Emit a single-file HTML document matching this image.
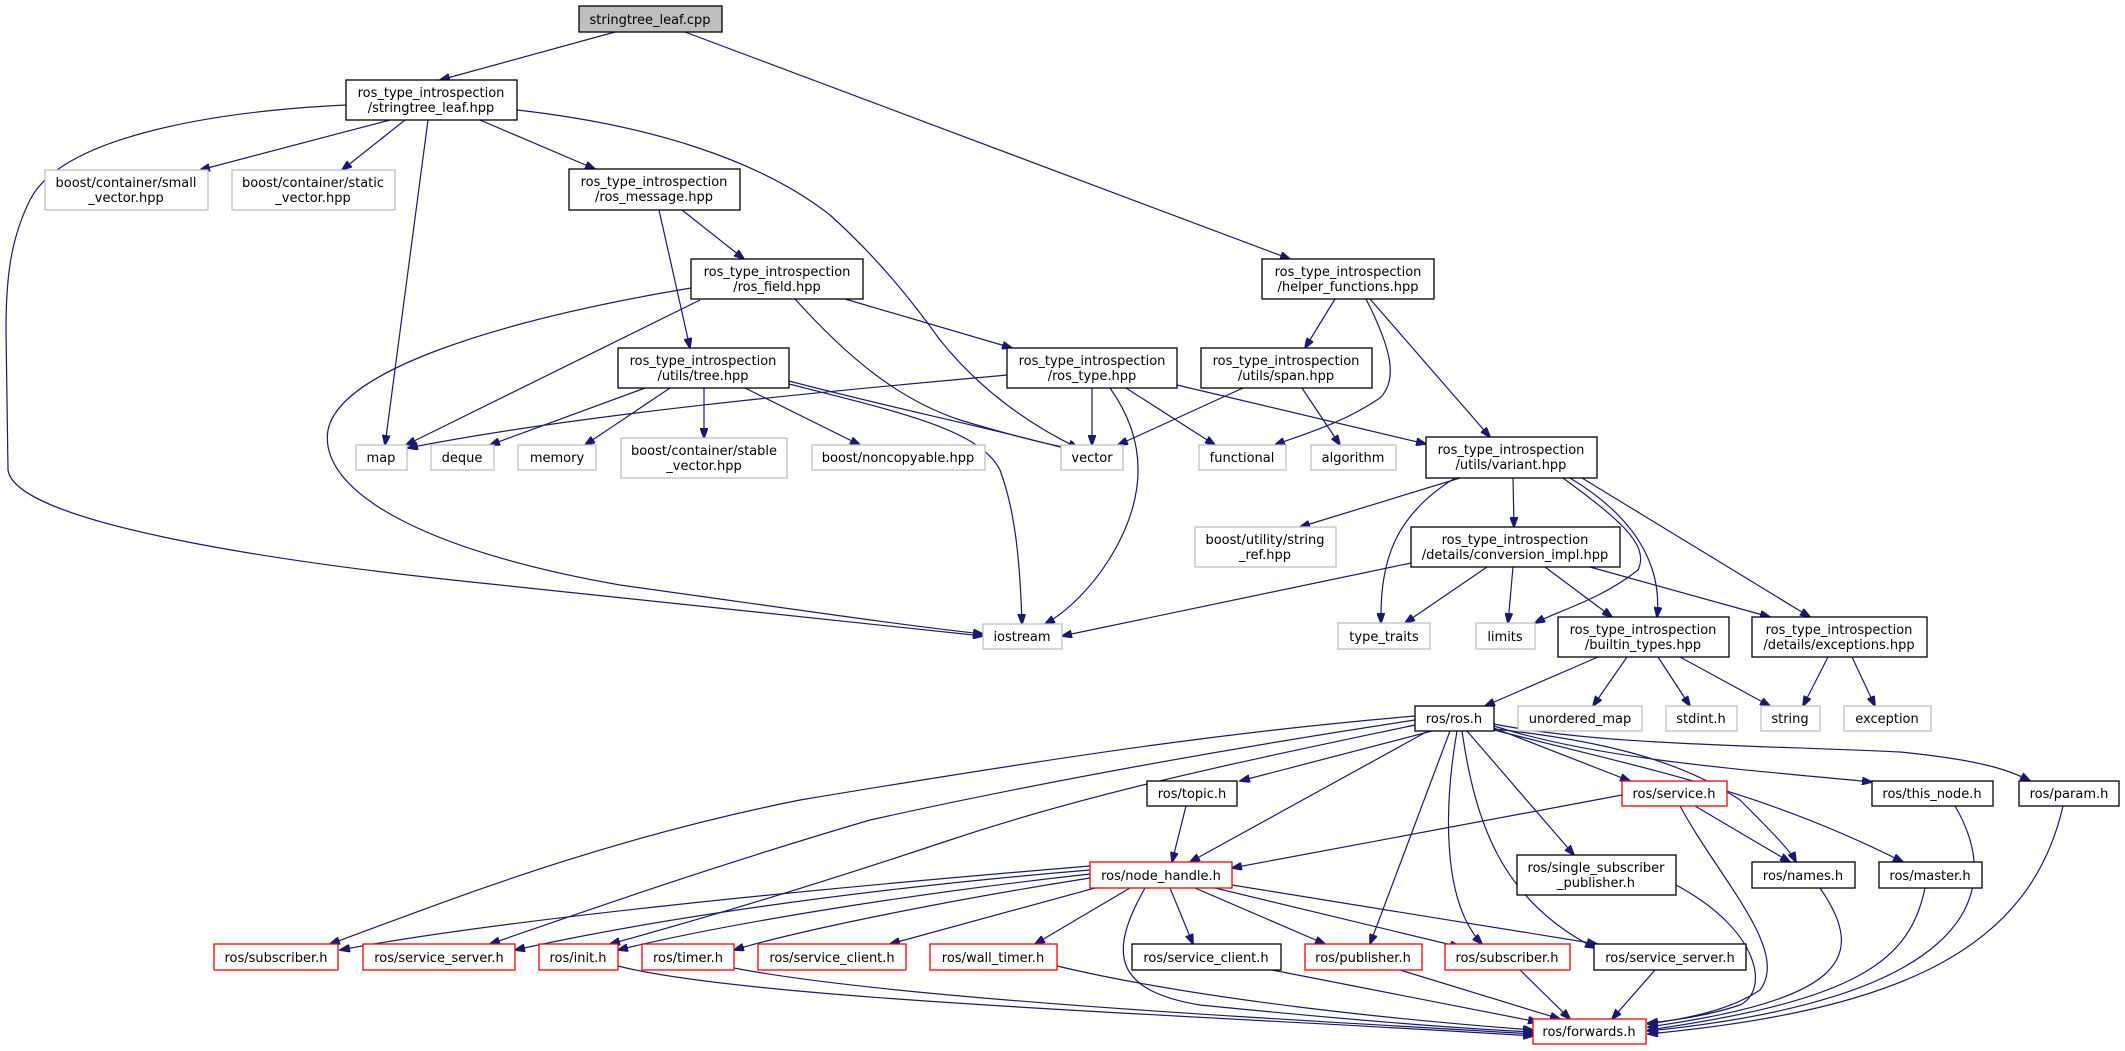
<!DOCTYPE html>
<html><head><meta charset="utf-8">
<style>
html,body{margin:0;padding:0;background:#fff;}
svg{display:block;}
text{font-family:"DejaVu Sans","Liberation Sans",sans-serif;font-size:13px;fill:#000;text-anchor:middle;}
.e{fill:none;stroke:#191970;stroke-width:1.2;marker-end:url(#a);}
.g{fill:#fff;stroke:#bfbfbf;stroke-width:1.3;}
.b{fill:#fff;stroke:#000;stroke-width:1.3;}
.r{fill:#fff;stroke:#ff0000;stroke-width:1.3;}
</style></head><body>
<svg width="2125" height="1051" viewBox="0 0 2125 1051" xmlns="http://www.w3.org/2000/svg">
<defs><marker id="a" markerWidth="11" markerHeight="8" refX="10" refY="4" orient="auto" markerUnits="userSpaceOnUse"><path d="M0,0 L11,4 L0,8 z" fill="#191970" stroke="#191970"/></marker></defs>

<g>
<path class="e" d="M615,32 L440,80"/>
<path class="e" d="M685,32 L1290,259"/>
<path class="e" d="M390,120 L200,170"/>
<path class="e" d="M405,120 L342,170"/>
<path class="e" d="M428,120 L385,445"/>
<path class="e" d="M480,120 L595,169"/>
<path class="e" d="M517,110 C650,125 760,160 830,215 C880,260 915,305 940,340 C980,390 1030,425 1078,448"/>
<path class="e" d="M346,105 C200,112 60,140 30,200 C10,240 6,280 6,330 L8,470 C15,520 250,560 500,585 C700,605 880,625 983,636"/>
<path class="e" d="M682,210 L744,259"/>
<path class="e" d="M659,210 L690,348"/>
<path class="e" d="M700,300 L406,445"/>
<path class="e" d="M691,288 C500,320 340,370 328,430 C318,490 420,550 620,585 C800,610 900,625 983,634"/>
<path class="e" d="M795,299 C850,360 900,400 960,420 C1010,435 1050,445 1078,450"/>
<path class="e" d="M845,299 L1012,348"/>
<path class="e" d="M1007,375 C900,385 600,410 408,448"/>
<path class="e" d="M645,388 L490,445"/>
<path class="e" d="M670,388 L585,445"/>
<path class="e" d="M704,388 L704,438"/>
<path class="e" d="M745,388 L860,445"/>
<path class="e" d="M789,381 C900,410 1000,430 1078,452"/>
<path class="e" d="M789,384 C900,412 980,430 1000,470 C1015,510 1020,560 1022,624"/>
<path class="e" d="M1092,388 L1092,445"/>
<path class="e" d="M1110,388 C1140,430 1150,480 1120,540 C1100,580 1070,610 1045,624"/>
<path class="e" d="M1126,388 L1215,445"/>
<path class="e" d="M1177,385 L1426,444"/>
<path class="e" d="M1243,388 L1118,445"/>
<path class="e" d="M1302,388 L1340,445"/>
<path class="e" d="M1335,299 L1305,348"/>
<path class="e" d="M1366,299 C1392,350 1398,380 1380,398 C1340,425 1300,435 1275,445"/>
<path class="e" d="M1370,299 L1490,437"/>
<path class="e" d="M1460,478 L1300,527"/>
<path class="e" d="M1513,478 L1514,527"/>
<path class="e" d="M1455,478 C1395,515 1380,560 1381,623"/>
<path class="e" d="M1563,478 C1620,520 1650,545 1638,570 C1600,600 1560,610 1535,623"/>
<path class="e" d="M1570,478 C1640,520 1662,570 1657,617"/>
<path class="e" d="M1582,478 L1810,617"/>
<path class="e" d="M1411,563 L1062,636"/>
<path class="e" d="M1487,567 L1405,623"/>
<path class="e" d="M1513,567 L1508,623"/>
<path class="e" d="M1545,567 L1612,617"/>
<path class="e" d="M1590,567 L1770,617"/>
<path class="e" d="M1598,657 L1485,706"/>
<path class="e" d="M1627,657 L1593,706"/>
<path class="e" d="M1658,657 L1690,706"/>
<path class="e" d="M1680,657 L1770,706"/>
<path class="e" d="M1828,657 L1803,706"/>
<path class="e" d="M1852,657 L1875,706"/>
<path class="e" d="M1432,731 L1240,781"/>
<path class="e" d="M1428,731 L1190,862"/>
<path class="e" d="M1494,728 L1630,781"/>
<path class="e" d="M1494,726 C1600,760 1750,770 1872,782"/>
<path class="e" d="M1494,724 C1600,745 1750,745 1900,752 C1980,760 2010,770 2030,781"/>
<path class="e" d="M1494,729 C1600,740 1680,760 1740,800 C1770,830 1790,850 1796,862"/>
<path class="e" d="M1494,730 C1650,770 1760,790 1903,862"/>
<path class="e" d="M1467,731 L1574,855"/>
<path class="e" d="M1450,731 L1370,944"/>
<path class="e" d="M1457,731 C1445,800 1440,900 1482,944"/>
<path class="e" d="M1462,731 C1475,820 1500,900 1595,948"/>
<path class="e" d="M1415,716 C1250,730 1100,750 800,800 C600,840 450,900 330,944"/>
<path class="e" d="M1415,720 C1250,745 1050,780 870,820 C700,870 560,920 490,944"/>
<path class="e" d="M1415,725 C1250,760 1100,790 950,840 C800,890 680,925 610,944"/>
<path class="e" d="M1622,795 L1232,868"/>
<path class="e" d="M1695,806 L1790,862"/>
<path class="e" d="M1680,806 C1720,880 1790,950 1760,990 C1730,1010 1690,1018 1648,1024"/>
<path class="e" d="M1186,806 L1172,862"/>
<path class="e" d="M1090,866 C800,890 500,920 340,950"/>
<path class="e" d="M1090,870 C850,890 650,920 515,950"/>
<path class="e" d="M1090,874 C900,895 720,925 618,950"/>
<path class="e" d="M1090,878 C950,900 800,930 734,950"/>
<path class="e" d="M1095,888 L890,944"/>
<path class="e" d="M1130,888 L1035,944"/>
<path class="e" d="M1170,888 L1193,944"/>
<path class="e" d="M1195,888 L1325,944"/>
<path class="e" d="M1215,888 L1460,947"/>
<path class="e" d="M1232,885 L1597,944"/>
<path class="e" d="M1145,888 C1110,950 1110,990 1200,1005 C1350,1020 1450,1028 1533,1032"/>
<path class="e" d="M618,966 C750,1000 1200,1015 1533,1036"/>
<path class="e" d="M734,968 C900,1000 1300,1020 1533,1034"/>
<path class="e" d="M1057,966 C1200,1000 1400,1020 1533,1030"/>
<path class="e" d="M1272,970 L1538,1022"/>
<path class="e" d="M1400,970 L1560,1019"/>
<path class="e" d="M1520,970 L1570,1019"/>
<path class="e" d="M1655,970 L1612,1019"/>
<path class="e" d="M1676,885 C1760,930 1770,990 1740,1005 C1710,1015 1680,1020 1648,1023"/>
<path class="e" d="M1820,888 C1870,960 1840,1000 1648,1027"/>
<path class="e" d="M1925,888 C1910,960 1860,1000 1648,1030"/>
<path class="e" d="M1955,806 C2010,900 1960,1000 1648,1031"/>
<path class="e" d="M2063,806 C2030,950 1900,1010 1648,1034"/>
</g>

<rect x="579" y="6" width="143" height="26" fill="#bfbfbf" stroke="#000" stroke-width="1.3"/><text x="650" y="24">stringtree_leaf.cpp</text>
<rect class="b" x="346" y="80" width="171" height="40"/><text x="431" y="97">ros_type_introspection</text><text x="431" y="112">/stringtree_leaf.hpp</text>
<rect class="g" x="45" y="170" width="163" height="40"/><text x="126" y="187">boost/container/small</text><text x="126" y="202">_vector.hpp</text>
<rect class="g" x="232" y="170" width="163" height="40"/><text x="313" y="187">boost/container/static</text><text x="313" y="202">_vector.hpp</text>
<rect class="b" x="569" y="169" width="171" height="41"/><text x="654" y="186">ros_type_introspection</text><text x="654" y="201">/ros_message.hpp</text>
<rect class="b" x="1262" y="259" width="172" height="40"/><text x="1348" y="276">ros_type_introspection</text><text x="1348" y="291">/helper_functions.hpp</text>
<rect class="b" x="691" y="259" width="172" height="40"/><text x="777" y="276">ros_type_introspection</text><text x="777" y="291">/ros_field.hpp</text>
<rect class="b" x="618" y="348" width="171" height="40"/><text x="703" y="365">ros_type_introspection</text><text x="703" y="380">/utils/tree.hpp</text>
<rect class="b" x="1007" y="348" width="170" height="40"/><text x="1092" y="365">ros_type_introspection</text><text x="1092" y="380">/ros_type.hpp</text>
<rect class="b" x="1201" y="348" width="171" height="40"/><text x="1286" y="365">ros_type_introspection</text><text x="1286" y="380">/utils/span.hpp</text>
<rect class="g" x="356" y="445" width="51" height="25"/><text x="381" y="462">map</text>
<rect class="g" x="431" y="445" width="63" height="25"/><text x="462" y="462">deque</text>
<rect class="g" x="518" y="445" width="78" height="25"/><text x="557" y="462">memory</text>
<rect class="g" x="621" y="438" width="166" height="40"/><text x="704" y="455">boost/container/stable</text><text x="704" y="470">_vector.hpp</text>
<rect class="g" x="812" y="445" width="173" height="25"/><text x="898" y="462">boost/noncopyable.hpp</text>
<rect class="g" x="1061" y="445" width="62" height="25"/><text x="1092" y="462">vector</text>
<rect class="g" x="1199" y="445" width="87" height="25"/><text x="1242" y="462">functional</text>
<rect class="g" x="1311" y="445" width="85" height="25"/><text x="1353" y="462">algorithm</text>
<rect class="b" x="1426" y="437" width="171" height="41"/><text x="1511" y="454">ros_type_introspection</text><text x="1511" y="469">/utils/variant.hpp</text>
<rect class="g" x="1195" y="527" width="141" height="40"/><text x="1265" y="544">boost/utility/string</text><text x="1265" y="559">_ref.hpp</text>
<rect class="b" x="1411" y="527" width="209" height="40"/><text x="1515" y="544">ros_type_introspection</text><text x="1515" y="559">/details/conversion_impl.hpp</text>
<rect class="g" x="983" y="624" width="79" height="25"/><text x="1022" y="641">iostream</text>
<rect class="g" x="1338" y="623" width="92" height="26"/><text x="1384" y="641">type_traits</text>
<rect class="g" x="1476" y="623" width="59" height="26"/><text x="1505" y="641">limits</text>
<rect class="b" x="1558" y="617" width="171" height="40"/><text x="1643" y="634">ros_type_introspection</text><text x="1643" y="649">/builtin_types.hpp</text>
<rect class="b" x="1752" y="617" width="175" height="40"/><text x="1839" y="634">ros_type_introspection</text><text x="1839" y="649">/details/exceptions.hpp</text>
<rect class="b" x="1415" y="706" width="79" height="25"/><text x="1454" y="723">ros/ros.h</text>
<rect class="g" x="1518" y="706" width="124" height="25"/><text x="1580" y="723">unordered_map</text>
<rect class="g" x="1666" y="706" width="71" height="25"/><text x="1701" y="723">stdint.h</text>
<rect class="g" x="1761" y="706" width="59" height="25"/><text x="1790" y="723">string</text>
<rect class="g" x="1844" y="706" width="87" height="25"/><text x="1887" y="723">exception</text>
<rect class="b" x="1147" y="781" width="90" height="25"/><text x="1192" y="798">ros/topic.h</text>
<rect class="r" x="1622" y="781" width="105" height="25"/><text x="1674" y="798">ros/service.h</text>
<rect class="b" x="1872" y="781" width="121" height="25"/><text x="1932" y="798">ros/this_node.h</text>
<rect class="b" x="2019" y="781" width="100" height="25"/><text x="2069" y="798">ros/param.h</text>
<rect class="r" x="1090" y="862" width="142" height="26"/><text x="1161" y="880">ros/node_handle.h</text>
<rect class="b" x="1517" y="855" width="159" height="40"/><text x="1596" y="872">ros/single_subscriber</text><text x="1596" y="887">_publisher.h</text>
<rect class="b" x="1752" y="862" width="103" height="26"/><text x="1803" y="880">ros/names.h</text>
<rect class="b" x="1879" y="862" width="103" height="26"/><text x="1930" y="880">ros/master.h</text>
<rect class="r" x="214" y="944" width="124" height="26"/><text x="276" y="962">ros/subscriber.h</text>
<rect class="r" x="363" y="944" width="152" height="26"/><text x="439" y="962">ros/service_server.h</text>
<rect class="r" x="539" y="944" width="79" height="26"/><text x="578" y="962">ros/init.h</text>
<rect class="r" x="642" y="944" width="92" height="26"/><text x="688" y="962">ros/timer.h</text>
<rect class="r" x="758" y="944" width="148" height="26"/><text x="832" y="962">ros/service_client.h</text>
<rect class="r" x="930" y="944" width="127" height="26"/><text x="993" y="962">ros/wall_timer.h</text>
<rect class="b" x="1132" y="944" width="149" height="26"/><text x="1206" y="962">ros/service_client.h</text>
<rect class="r" x="1305" y="944" width="117" height="26"/><text x="1363" y="962">ros/publisher.h</text>
<rect class="r" x="1445" y="944" width="125" height="26"/><text x="1507" y="962">ros/subscriber.h</text>
<rect class="b" x="1594" y="944" width="152" height="26"/><text x="1670" y="962">ros/service_server.h</text>
<rect class="r" x="1533" y="1019" width="113" height="25"/><text x="1589" y="1036">ros/forwards.h</text>
</svg>
</body></html>
